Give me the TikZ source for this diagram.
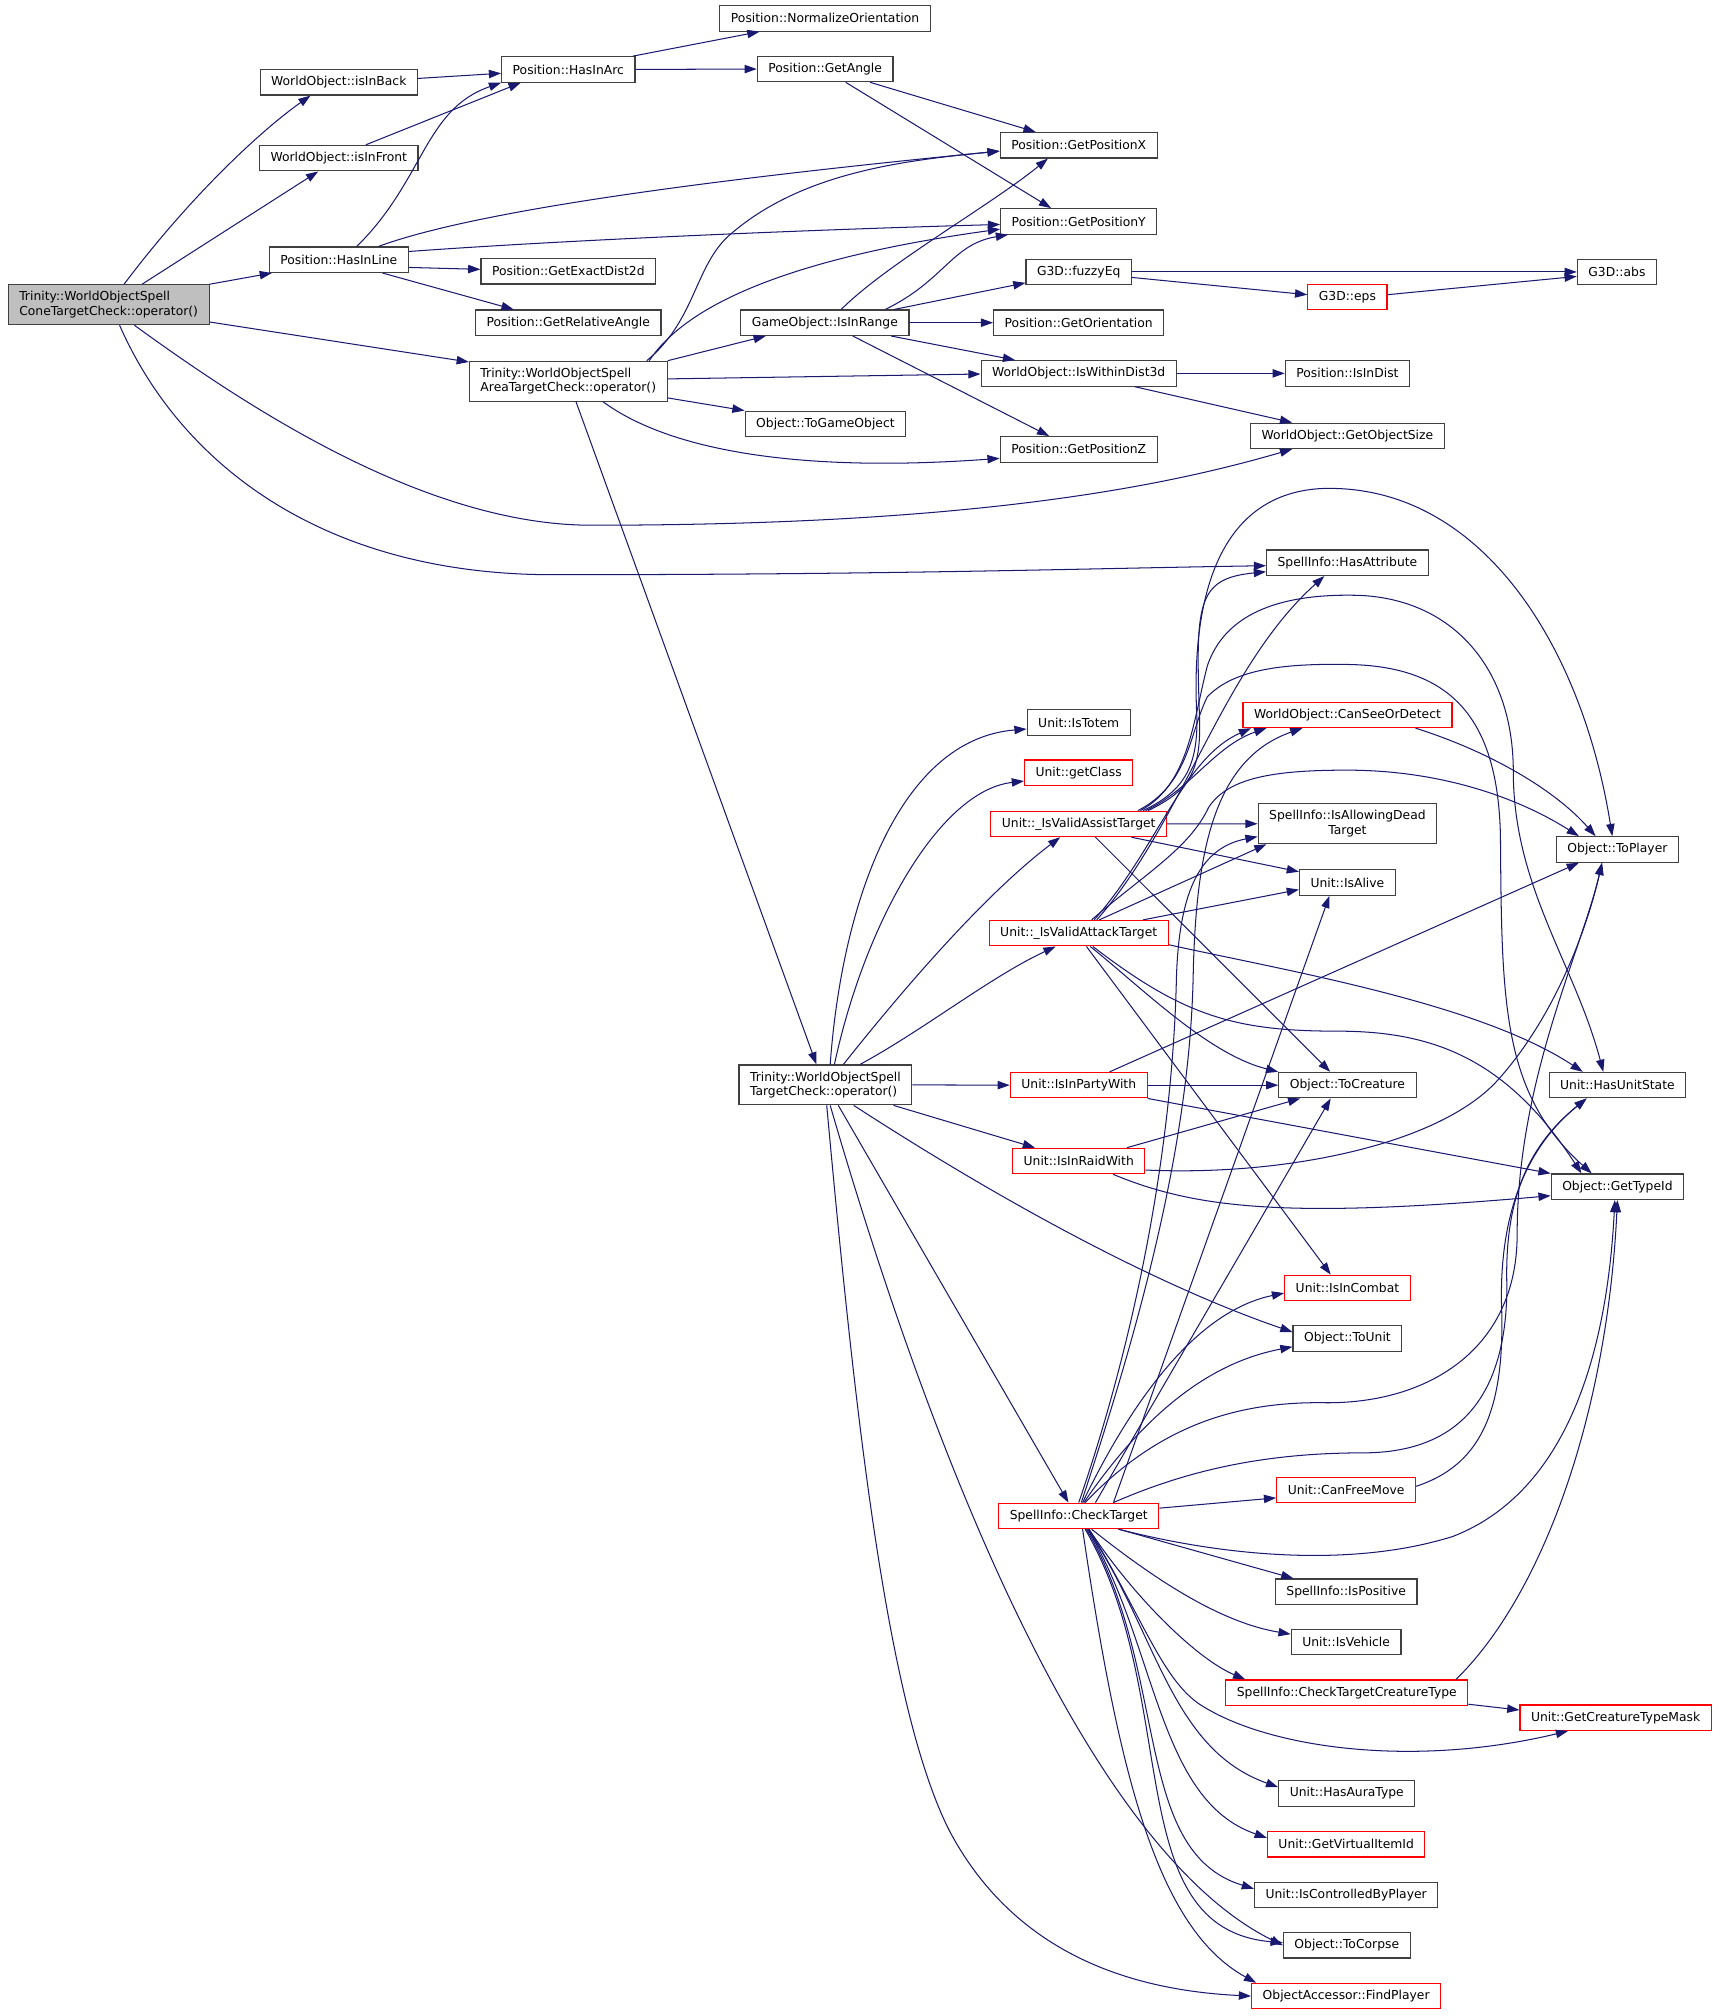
\documentclass[tikz,border=0pt]{standalone}
\usepackage{fontspec}
\setmainfont{DejaVu Sans}
\usetikzlibrary{arrows.meta}
\definecolor{edgeblue}{HTML}{191970}
\definecolor{boxgray}{HTML}{404040}
\definecolor{boxred}{HTML}{FF0000}
\definecolor{rootfill}{HTML}{BFBFBF}

\begin{document}
\begin{tikzpicture}[x=1pt,y=-1pt,
  fn/.style={draw=boxgray, fill=white, line width=0.9pt, inner xsep=8.6pt, inner ysep=1pt,
    minimum height=19.8pt, font=\fontsize{9.6}{11.2}\selectfont},
  fnred/.style={fn, draw=boxred},
  fntwo/.style={fn, minimum height=31pt, align=left},
  call/.style={draw=edgeblue, line width=0.8pt, -{Triangle[length=9.5pt,width=6.5pt]}}]
  \useasboundingbox[fill=white] (0,0) rectangle (1338,1568);

  \node[fntwo, fill=rootfill] (cone) at (84.5,237) {Trinity::WorldObjectSpell\\ConeTargetCheck::operator()};
  \node[fn] (isInBack) at (263.5,64) {WorldObject::isInBack};
  \node[fn] (isInFront) at (263.5,123) {WorldObject::isInFront};
  \node[fn] (hasInLine) at (263.5,202) {Position::HasInLine};
  \node[fn] (hasInArc) at (442,54) {Position::HasInArc};
  \node[fn] (exactDist) at (442,211) {Position::GetExactDist2d};
  \node[fn] (relAngle) at (442,251) {Position::GetRelativeAngle};
  \node[fntwo] (areaCheck) at (442,296.5) {Trinity::WorldObjectSpell\\AreaTargetCheck::operator()};
  \node[fn] (normOrient) at (641.7,14.3) {Position::NormalizeOrientation};
  \node[fn] (getAngle) at (641.8,53.7) {Position::GetAngle};
  \node[fn] (inRange) at (641.6,251) {GameObject::IsInRange};
  \node[fn] (toGameObj) at (642,329.7) {Object::ToGameObject};
  \node[fntwo] (targetCheck) at (642,843.8) {Trinity::WorldObjectSpell\\TargetCheck::operator()};
  \node[fn] (posX) at (839,113) {Position::GetPositionX};
  \node[fn] (posY) at (839,172.2) {Position::GetPositionY};
  \node[fn] (fuzzyEq) at (839,211.5) {G3D::fuzzyEq};
  \node[fn] (orient) at (839,251) {Position::GetOrientation};
  \node[fn] (dist3d) at (839,290.4) {WorldObject::IsWithinDist3d};
  \node[fn] (posZ) at (839,349.5) {Position::GetPositionZ};
  \node[fn] (isTotem) at (839,562) {Unit::IsTotem};
  \node[fnred] (getClass) at (839,601) {Unit::getClass};
  \node[fnred] (assist) at (839,640.8) {Unit::\_IsValidAssistTarget};
  \node[fnred] (attack) at (839,725.8) {Unit::\_IsValidAttackTarget};
  \node[fnred] (party) at (839,844) {Unit::IsInPartyWith};
  \node[fnred] (raid) at (839,903) {Unit::IsInRaidWith};
  \node[fnred] (checkTarget) at (839,1179) {SpellInfo::CheckTarget};
  \node[fnred] (eps) at (1048,231) {G3D::eps};
  \node[fn] (inDist) at (1048,290.4) {Position::IsInDist};
  \node[fn] (objSize) at (1048,339) {WorldObject::GetObjectSize};
  \node[fn] (hasAttr) at (1048,437.7) {SpellInfo::HasAttribute};
  \node[fnred] (canSee) at (1048,556) {WorldObject::CanSeeOrDetect};
  \node[fntwo, align=center] (allowDead) at (1048,640.7) {SpellInfo::IsAllowingDead\\Target};
  \node[fn] (isAlive) at (1048,686.4) {Unit::IsAlive};
  \node[fn] (toCreature) at (1048,844) {Object::ToCreature};
  \node[fnred] (inCombat) at (1048,1001.7) {Unit::IsInCombat};
  \node[fn] (toUnit) at (1048,1041) {Object::ToUnit};
  \node[fnred] (freeMove) at (1047,1159) {Unit::CanFreeMove};
  \node[fn] (isPositive) at (1047,1238) {SpellInfo::IsPositive};
  \node[fn] (isVehicle) at (1047,1277) {Unit::IsVehicle};
  \node[fnred] (creatureType) at (1047.5,1316.5) {SpellInfo::CheckTargetCreatureType};
  \node[fn] (auraType) at (1047.5,1395) {Unit::HasAuraType};
  \node[fnred] (virtualItem) at (1047,1434.4) {Unit::GetVirtualItemId};
  \node[fn] (ctrlByPlayer) at (1047,1474) {Unit::IsControlledByPlayer};
  \node[fn] (toCorpse) at (1047.5,1513) {Object::ToCorpse};
  \node[fnred] (findPlayer) at (1047,1552.5) {ObjectAccessor::FindPlayer};
  \node[fn] (absVal) at (1257.6,211.5) {G3D::abs};
  \node[fn] (toPlayer) at (1258,660.7) {Object::ToPlayer};
  \node[fn] (unitState) at (1258,844) {Unit::HasUnitState};
  \node[fn] (typeId) at (1258,923) {Object::GetTypeId};
  \node[fnred] (typeMask) at (1256.6,1336) {Unit::GetCreatureTypeMask};

  \draw[call] ([xshift=12pt]cone.north) .. controls (150,150) and (205,100) .. ([xshift=-22pt]isInBack.south);
  \draw[call] ([xshift=26pt]cone.north) -- ([xshift=-16pt]isInFront.south);
  \draw[call] (cone.north east) -- ([xshift=-52pt]hasInLine.south);
  \draw[call] ([yshift=2.5pt]cone.south east) -- ([yshift=-1pt]areaCheck.north west);
  \draw[call] ([xshift=20pt]cone.south) .. controls (190,315) and (330,408.5) .. (460,408.5)
    .. controls (750,408.5) and (900,380) .. ([xshift=-43pt]objSize.south);
  \draw[call] ([xshift=8.5pt]cone.south) .. controls (140,360) and (250,447) .. (430,447)
    .. controls (700,447) and (850,442) .. ([yshift=-2.3pt]hasAttr.west);
  \draw[call] ([yshift=3pt]isInBack.east) -- ([yshift=-3pt]hasInArc.west);
  \draw[call] ([xshift=21pt]isInFront.north) -- ([xshift=-37pt]hasInArc.south);
  \draw[call] ([xshift=14pt]hasInLine.north) .. controls (330,140) and (330,85) .. (hasInArc.south west);
  \draw[call] ([xshift=31pt]hasInLine.north) .. controls (380,160) and (600,135) .. ([yshift=-4.5pt]posX.west);
  \draw[call] ([yshift=6.4pt]hasInLine.east) .. controls (450,186) and (650,178) .. ([yshift=-2.4pt]posY.west);
  \draw[call] ([yshift=-6pt]hasInLine.east) -- ([yshift=1.5pt]exactDist.west);
  \draw[call] ([xshift=34pt]hasInLine.south) -- ([xshift=-42.5pt]relAngle.north);
  \draw[call] ([xshift=-2pt]hasInArc.north east) -- ([xshift=-51pt]normOrient.south);
  \draw[call] (hasInArc.east) -- (getAngle.west);
  \draw[call] ([xshift=35pt]getAngle.south) -- ([xshift=-33.5pt]posX.north);
  \draw[call] ([xshift=16pt]getAngle.south) -- ([xshift=-21.5pt]posY.north);
  \draw[call] ([xshift=61pt]areaCheck.north) .. controls (540,250) and (540,210) .. (565,185)
    .. controls (620,135) and (700,125) .. ([yshift=-4.6pt]posX.west);
  \draw[call] ([xshift=63pt]areaCheck.north) .. controls (535,235) and (620,200) .. ([yshift=-6pt]posY.west);
  \draw[call] (areaCheck.north east) -- ([xshift=-46pt]inRange.south);
  \draw[call] ([yshift=1.8pt]areaCheck.east) -- ([yshift=-0.5pt]dist3d.west);
  \draw[call] ([yshift=-13pt]areaCheck.east) -- (toGameObj.north west);
  \draw[call] ([xshift=27pt]areaCheck.south) .. controls (520,350) and (620,368) .. ([yshift=-7pt]posZ.west);
  \draw[call] ([xshift=6pt]areaCheck.south) -- ([xshift=-7pt]targetCheck.north);
  \draw[call] ([xshift=12.7pt]inRange.north) .. controls (690,205) and (770,160) .. ([xshift=-24pt]posX.south);
  \draw[call] ([xshift=47pt]inRange.north) .. controls (735,218) and (740,190) .. ([xshift=-55pt]posY.south);
  \draw[call] ([xshift=54pt]inRange.north) -- ([yshift=-8.5pt]fuzzyEq.west);
  \draw[call] (inRange.east) -- (orient.west);
  \draw[call] ([xshift=51.5pt]inRange.south) -- ([xshift=-49.5pt]dist3d.north);
  \draw[call] ([xshift=21.7pt]inRange.south) -- ([xshift=-23pt]posZ.north);
  \draw[call] (fuzzyEq.east) -- (absVal.west);
  \draw[call] ([yshift=-4.3pt]fuzzyEq.east) -- ([yshift=1.8pt]eps.west);
  \draw[call] ([yshift=1.8pt]eps.east) -- ([yshift=-3.5pt]absVal.west);
  \draw[call] (dist3d.east) -- (inDist.west);
  \draw[call] ([xshift=43.5pt]dist3d.south) -- ([xshift=-43pt]objSize.north);

  \draw[call] ([xshift=3.7pt]targetCheck.north) .. controls (655,700) and (700,575) .. ([yshift=-5pt]isTotem.west);
  \draw[call] ([xshift=7pt]targetCheck.north) .. controls (672,720) and (730,615) .. ([yshift=-6.5pt]getClass.west);
  \draw[call] ([xshift=14pt]targetCheck.north) .. controls (690,785) and (760,700) .. ([xshift=-14.4pt]assist.south);
  \draw[call] ([xshift=27pt]targetCheck.north) .. controls (720,800) and (770,760) .. ([xshift=-18pt]attack.south);
  \draw[call] (targetCheck.east) -- (party.west);
  \draw[call] ([xshift=53pt]targetCheck.south) -- ([xshift=-34pt]raid.north);
  \draw[call] ([xshift=22pt]targetCheck.south) .. controls (780,935) and (900,1000) .. ([yshift=5pt]toUnit.west);
  \draw[call] ([xshift=10pt]targetCheck.south) -- ([xshift=-8pt]checkTarget.north);
  \draw[call] ([xshift=3.7pt]targetCheck.south) .. controls (730,1150) and (850,1440) .. (toCorpse.west);
  \draw[call] ([xshift=1pt]targetCheck.south) .. controls (665,1100) and (690,1330) .. (739,1425)
    .. controls (790,1520) and (880,1548) .. (findPlayer.west);

  \draw[call] ([xshift=54pt]assist.north) .. controls (925,615) and (934,600) .. (933,560)
    .. controls (930,470) and (930,450) .. ([yshift=-7pt]hasAttr.west);
  \draw[call] ([xshift=52pt]assist.north) .. controls (925,615) and (945,580) .. ([xshift=-63pt]canSee.south);
  \draw[call] ([xshift=50pt]assist.north) .. controls (922,615) and (931,595) .. (931,560)
    .. controls (926,470) and (945,385) .. (1027,380)
    .. controls (1150,375) and (1230,500) .. ([xshift=-4pt]toPlayer.north);
  \draw[call] ([xshift=48pt]assist.north) .. controls (925,610) and (928,560) .. (939,518)
    .. controls (955,470) and (1010,462) .. (1055,463)
    .. controls (1130,465) and (1177,520) .. (1177,600)
    .. controls (1177,690) and (1225,750) .. ([xshift=-11pt]unitState.north);
  \draw[call] ([xshift=46pt]assist.north) .. controls (925,610) and (925,570) .. (939,542)
    .. controls (960,520) and (1000,516) .. (1048,516.8)
    .. controls (1130,518) and (1165,560) .. (1167,650)
    .. controls (1168,780) and (1168,850) .. ([xshift=-20pt]typeId.north);
  \draw[call] (assist.east) -- (allowDead.west);
  \draw[call] ([xshift=41pt]assist.south) -- ([yshift=8.4pt]isAlive.west);
  \draw[call] ([xshift=13pt]assist.south) -- ([xshift=-13.4pt]toCreature.north);

  \draw[call] ([xshift=14pt]attack.north) .. controls (920,640) and (950,520) .. ([xshift=-18pt]hasAttr.south);
  \draw[call] ([xshift=12pt]attack.north) .. controls (900,660) and (920,590) .. ([xshift=-75pt]canSee.south);
  \draw[call] ([xshift=10pt]attack.north) .. controls (890,680) and (925,660) .. (940,628)
    .. controls (955,605) and (990,599) .. (1047.6,599)
    .. controls (1120,599) and (1180,620) .. ([xshift=-30pt]toPlayer.north);
  \draw[call] ([xshift=16pt]attack.north) -- ([xshift=-63pt]allowDead.south);
  \draw[call] ([xshift=50pt]attack.north) -- ([yshift=-5.5pt]isAlive.west);
  \draw[call] ([xshift=9pt]attack.south) .. controls (890,770) and (940,820) .. (toCreature.north west);
  \draw[call] ([xshift=11pt]attack.south) .. controls (920,790) and (960,802) .. (1040,802)
    .. controls (1110,802) and (1170,820) .. ([xshift=-28pt]typeId.north);
  \draw[call] ([yshift=-9pt]attack.east) .. controls (1000,755) and (1150,780) .. ([xshift=-27pt]unitState.north);
  \draw[call] ([xshift=6pt]attack.south) -- ([xshift=-13pt]inCombat.north);

  \draw[call] (party.east) -- (toCreature.west);
  \draw[call] ([xshift=24pt]party.north) -- ([xshift=-30pt]toPlayer.south);
  \draw[call] (party.south east) -- (typeId.north west);
  \draw[call] ([xshift=37.5pt]raid.north) -- ([xshift=-36.7pt]toCreature.south);
  \draw[call] ([yshift=-7pt]raid.east) .. controls (1000,915) and (1120,890) .. (1165,840)
    .. controls (1210,790) and (1235,720) .. ([xshift=-12pt]toPlayer.south);
  \draw[call] ([xshift=26.7pt]raid.south) .. controls (930,940) and (1000,948) .. ([yshift=-7pt]typeId.west);

  \draw[call] ([xshift=2pt]checkTarget.north) .. controls (880,1050) and (925,900) .. (928,760)
    .. controls (930,660) and (945,590) .. ([xshift=-35pt]canSee.south);
  \draw[call] (checkTarget.north) .. controls (880,1050) and (912,900) .. (915,760)
    .. controls (917,700) and (930,660) .. ([yshift=-10pt]allowDead.west);
  \draw[call] ([xshift=27pt]checkTarget.north) -- ([xshift=-14pt]isAlive.south);
  \draw[call] ([xshift=13pt]checkTarget.north) -- ([xshift=-13pt]toCreature.south);
  \draw[call] ([xshift=3pt]checkTarget.north) .. controls (880,1090) and (930,1020) .. ([yshift=-4pt]inCombat.west);
  \draw[call] ([xshift=4pt]checkTarget.north) .. controls (890,1100) and (940,1060) .. ([yshift=-6.5pt]toUnit.west);
  \draw[call] ([xshift=5pt]checkTarget.north) .. controls (900,1110) and (960,1090) .. (1030,1091)
    .. controls (1110,1092) and (1180,1050) .. (1180,960)
    .. controls (1180,840) and (1230,740) .. ([xshift=-12pt]toPlayer.south);
  \draw[call] ([xshift=27pt]checkTarget.north) .. controls (920,1145) and (980,1130) .. (1060,1130)
    .. controls (1140,1130) and (1172,1080) .. (1172,1000)
    .. controls (1170,930) and (1190,890) .. ([xshift=-24pt]unitState.south);
  \draw[call] ([xshift=31pt]checkTarget.south) .. controls (950,1210) and (1050,1220) .. (1130,1195)
    .. controls (1220,1160) and (1250,1050) .. ([xshift=-2pt]typeId.south);
  \draw[call] ([yshift=6pt]checkTarget.east) -- ([yshift=-6pt]freeMove.west);
  \draw[call] ([xshift=31pt]checkTarget.south) -- ([xshift=-41pt]isPositive.north);
  \draw[call] ([xshift=10pt]checkTarget.south) .. controls (900,1230) and (950,1262) .. ([yshift=6pt]isVehicle.west);
  \draw[call] ([xshift=8pt]checkTarget.south) .. controls (880,1240) and (930,1290) .. ([xshift=-79pt]creatureType.north);
  \draw[call] ([xshift=8pt]checkTarget.south) .. controls (890,1260) and (905,1310) .. (937,1328)
    .. controls (990,1360) and (1100,1375) .. ([xshift=-37pt]typeMask.south);
  \draw[call] ([xshift=7pt]checkTarget.south) .. controls (900,1270) and (910,1360) .. ([yshift=5pt]auraType.west);
  \draw[call] ([xshift=7pt]checkTarget.south) .. controls (900,1280) and (900,1400) .. ([yshift=5pt]virtualItem.west);
  \draw[call] ([xshift=6pt]checkTarget.south) .. controls (910,1300) and (880,1440) .. ([yshift=5pt]ctrlByPlayer.west);
  \draw[call] ([xshift=5pt]checkTarget.south) .. controls (920,1320) and (870,1500) .. ([yshift=2pt]toCorpse.west);
  \draw[call] ([xshift=3pt]checkTarget.south) .. controls (870,1380) and (900,1500) .. ([xshift=-70pt]findPlayer.north);
  \draw[call] ([yshift=3pt]freeMove.east) .. controls (1150,1140) and (1170,1100) .. (1168,1020)
    .. controls (1165,940) and (1190,890) .. ([xshift=-24pt]unitState.south);
  \draw[call] ([xshift=85pt]creatureType.north) .. controls (1200,1240) and (1250,1100) .. (typeId.south);
  \draw[call] ([yshift=-9pt]creatureType.east) -- ([yshift=6pt]typeMask.west);
  \draw[call] ([xshift=53pt]canSee.south) .. controls (1160,585) and (1210,615) .. ([xshift=-17pt]toPlayer.north);
\end{tikzpicture}
\end{document}
